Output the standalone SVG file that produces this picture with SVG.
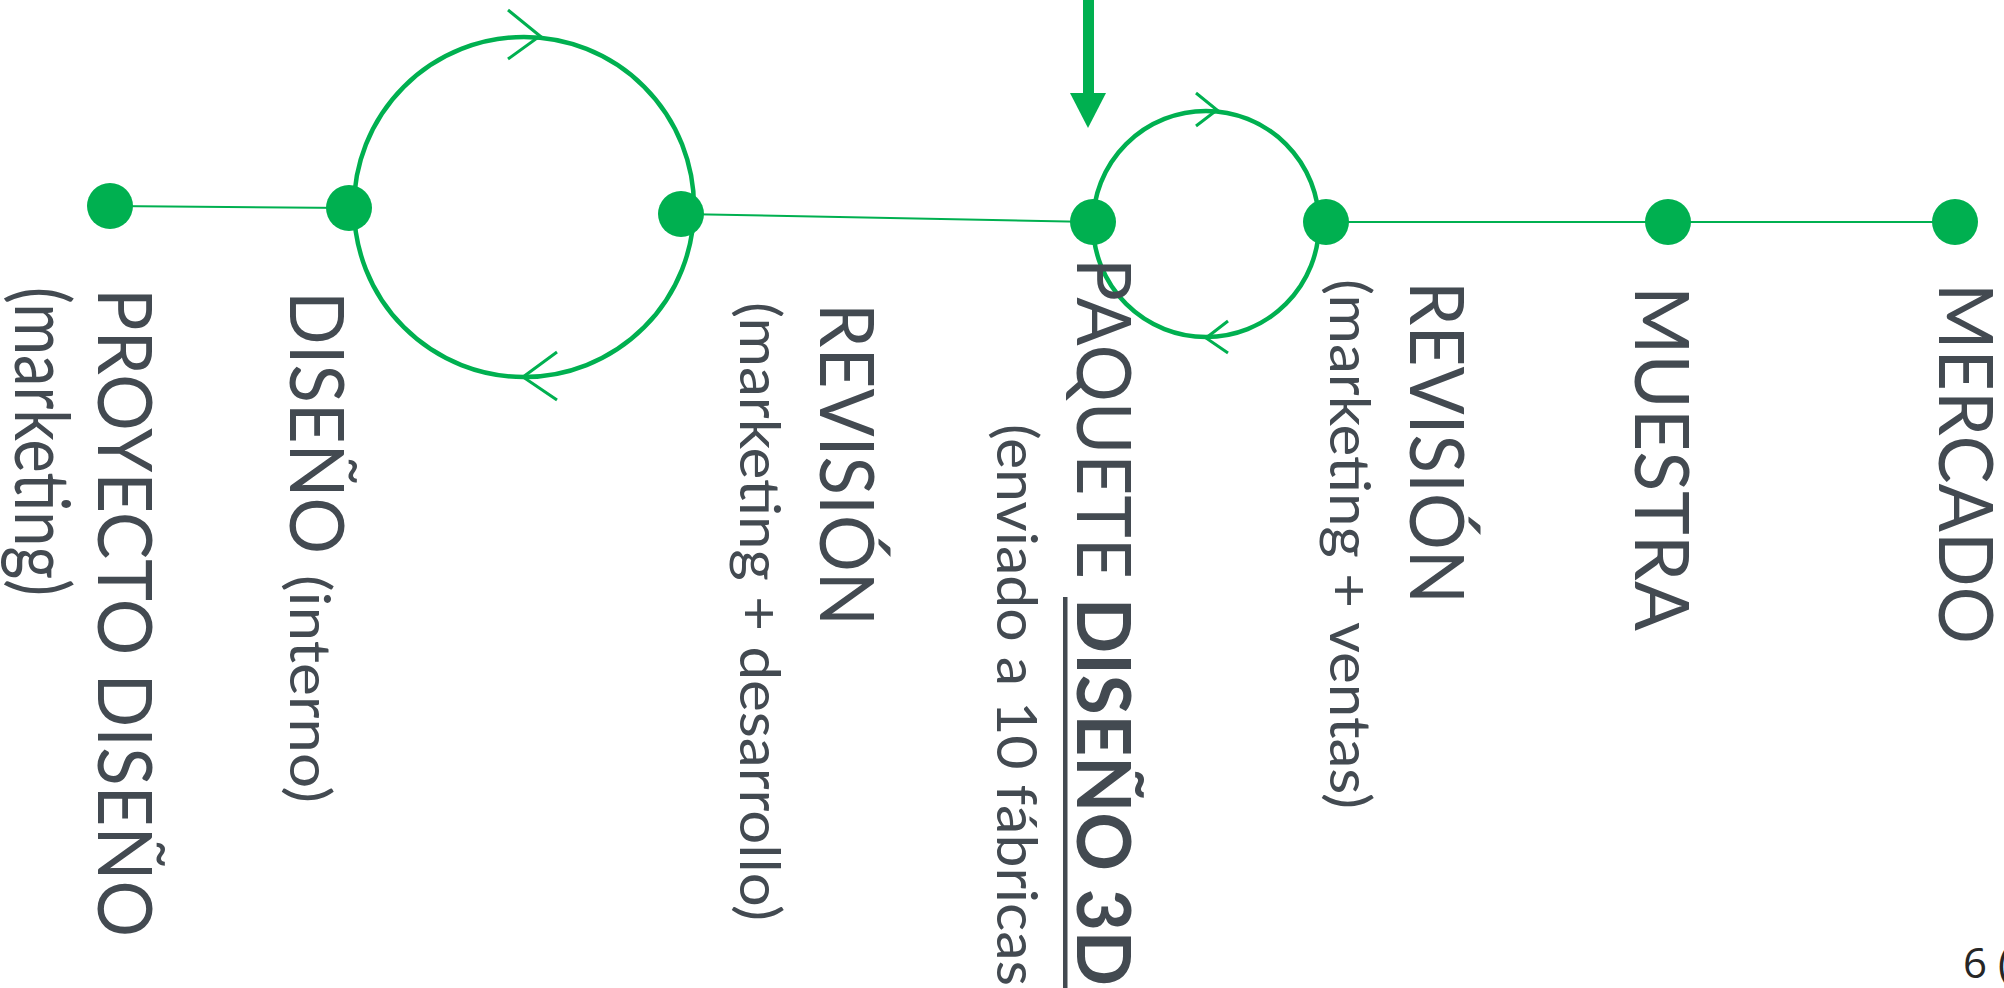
<svg xmlns="http://www.w3.org/2000/svg" width="2004" height="988" viewBox="0 0 2004 988">
<style>
.dot{fill:#00b050}
.conn{stroke:#00b050;stroke-width:2;fill:none}
.loop{stroke:#00b050;stroke-width:4.5;fill:none}
.chev{stroke:#00b050;stroke-width:3;fill:none;stroke-linecap:butt;stroke-linejoin:miter}
.lbl{font-family:Lato,"Liberation Sans",sans-serif;fill:#434a51}
.big{font-size:75px}
.small{font-size:56px}
.bold{font-weight:700}
</style>
<rect width="2004" height="988" fill="#ffffff"/>
<g id="connectors">
  <line class="conn" x1="110" y1="206" x2="349" y2="208"/>
  <line class="conn" x1="681" y1="214" x2="1093" y2="222"/>
  <line class="conn" x1="1326" y1="222" x2="1668" y2="222"/>
  <line class="conn" x1="1668" y1="222" x2="1955" y2="222"/>
  <circle class="loop" cx="524" cy="207" r="170"/>
  <polyline class="chev" points="508,10 540,36 508,59"/>
  <polyline class="chev" points="557,352 523,377 557,400"/>
  <circle class="loop" cx="1206" cy="224" r="113"/>
  <polyline class="chev" points="1196,93 1217,110 1196,126"/>
  <polyline class="chev" points="1228,321 1206,338 1228,353"/>
  <g id="input-arrow">
    <rect x="1083" y="-1" width="11" height="96" fill="#00b050"/>
    <polygon points="1070,93 1106,93 1088,128" fill="#00b050"/>
  </g>
</g>
<g id="node-proyecto">
  <circle class="dot" cx="110" cy="206" r="23"/>
  <text class="lbl big" transform="translate(98,288) rotate(90)" textLength="649" lengthAdjust="spacingAndGlyphs">PROYECTO DISEÑO</text>
  <text class="lbl" style="font-size:76px" transform="translate(15,287) rotate(90)" textLength="309" lengthAdjust="spacingAndGlyphs">(marketing)</text>
</g>
<g id="node-diseno">
  <circle class="dot" cx="349" cy="208" r="23"/>
  <text class="lbl big" transform="translate(290,291) rotate(90)" textLength="263" lengthAdjust="spacingAndGlyphs">DISEÑO</text>
  <text class="lbl small" transform="translate(290,575) rotate(90)" textLength="228" lengthAdjust="spacingAndGlyphs">(interno)</text>
</g>
<g id="node-revision1">
  <circle class="dot" cx="681" cy="214" r="23"/>
  <text class="lbl big" transform="translate(820,303) rotate(90)" textLength="323" lengthAdjust="spacingAndGlyphs">REVISIÓN</text>
  <text class="lbl small" transform="translate(740,302) rotate(90)" textLength="619" lengthAdjust="spacingAndGlyphs">(marketing + desarrollo)</text>
</g>
<g id="node-paquete">
  <circle class="dot" cx="1093" cy="222" r="23"/>
  <text class="lbl big" transform="translate(1077,258) rotate(90)" textLength="321" lengthAdjust="spacingAndGlyphs">PAQUETE</text>
  <text class="lbl big bold" transform="translate(1077,598) rotate(90)" textLength="388" lengthAdjust="spacingAndGlyphs">DISEÑO 3D</text>
  <rect x="1063" y="597" width="4.5" height="395" fill="#434a51"/>
  <text class="lbl small" transform="translate(997,424) rotate(90)" textLength="562" lengthAdjust="spacingAndGlyphs">(enviado a 10 fábricas</text>
</g>
<g id="node-revision2">
  <circle class="dot" cx="1326" cy="222" r="23"/>
  <text class="lbl big" transform="translate(1410,281) rotate(90)" textLength="323" lengthAdjust="spacingAndGlyphs">REVISIÓN</text>
  <text class="lbl small" transform="translate(1330,279) rotate(90)" textLength="530" lengthAdjust="spacingAndGlyphs">(marketing + ventas)</text>
</g>
<g id="node-muestra">
  <circle class="dot" cx="1668" cy="222" r="23"/>
  <text class="lbl big" transform="translate(1635,286) rotate(90)" textLength="345" lengthAdjust="spacingAndGlyphs">MUESTRA</text>
</g>
<g id="node-mercado">
  <circle class="dot" cx="1955" cy="222" r="23"/>
  <text class="lbl big" transform="translate(1939,283) rotate(90)" textLength="361" lengthAdjust="spacingAndGlyphs">MERCADO</text>
</g>
<text x="1963" y="978" style="font-family:'Open Sans','DejaVu Sans',sans-serif;font-size:42px;fill:#262626">6 (</text>
</svg>
